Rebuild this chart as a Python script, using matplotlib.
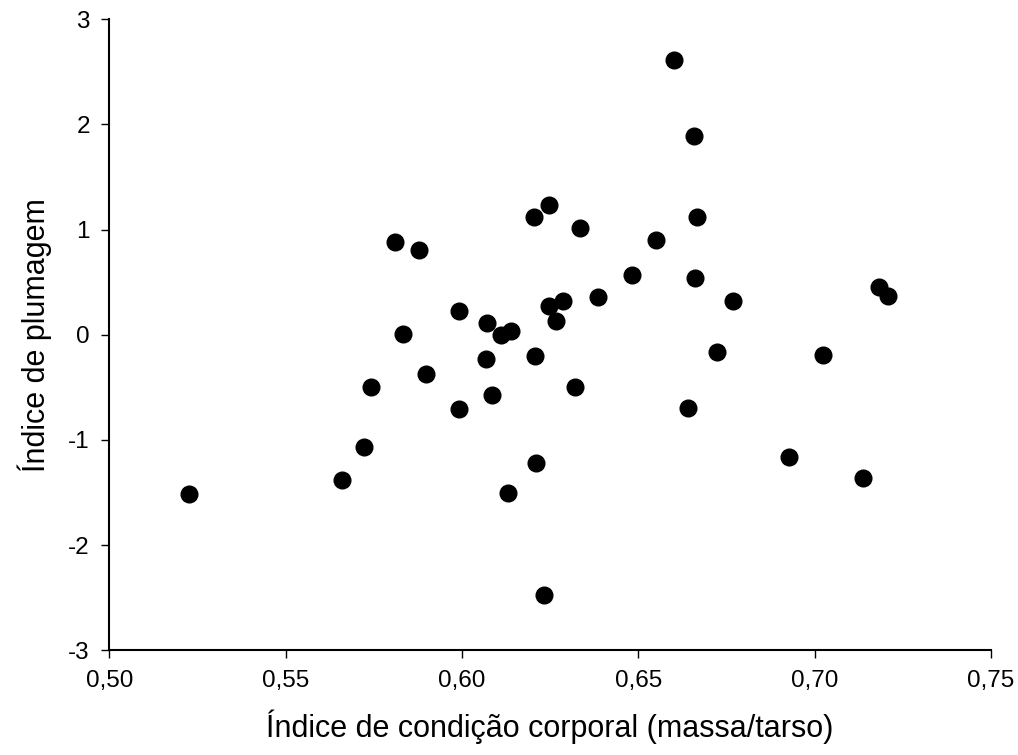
import matplotlib
matplotlib.use("Agg")
import matplotlib.pyplot as plt
from matplotlib.ticker import FuncFormatter

# Índice de condição corporal (massa/tarso)
condicao = [0.5226, 0.5660, 0.5721, 0.5742, 0.5810, 0.5832, 0.5877, 0.5899,
            0.5993, 0.5993, 0.6070, 0.6068, 0.6085, 0.6110, 0.6138, 0.6130,
            0.6205, 0.6207, 0.6209, 0.6232, 0.6247, 0.6246, 0.6267, 0.6287,
            0.6321, 0.6335, 0.6386, 0.6481, 0.6549, 0.6601, 0.6642, 0.6658,
            0.6662, 0.6667, 0.6723, 0.6770, 0.6926, 0.7024, 0.7137, 0.7183,
            0.7208]
# Índice de plumagem
plumagem = [-1.517, -1.378, -1.064, -0.493, 0.885, 0.005, 0.811, -0.377,
            0.226, -0.708, 0.115, -0.230, -0.568, -0.002, 0.036, -1.501,
            1.117, -0.202, -1.219, -2.471, 1.239, 0.274, 0.131, 0.324,
            -0.493, 1.016, 0.357, 0.571, 0.899, 2.613, -0.699, 1.893,
            0.543, 1.117, -0.164, 0.319, -1.162, -0.192, -1.362, 0.457,
            0.372]

xticks = [0.50, 0.55, 0.60, 0.65, 0.70, 0.75]
yticks = [-3, -2, -1, 0, 1, 2, 3]

plt.rcParams['font.family'] = ['Liberation Sans', 'DejaVu Sans']

fig = plt.figure(figsize=(10.18, 7.55), dpi=100)
ax = fig.add_axes([0.1074, 0.1387, 0.866, 0.8357])

ax.plot(condicao, plumagem, 'o', color='black', markersize=12, clip_on=False)

ax.set_xlim(0.50, 0.75)
ax.set_ylim(-3, 3)
ax.set_xticks(xticks)
ax.set_yticks(yticks)
ax.xaxis.set_major_formatter(FuncFormatter(lambda v, p: f"{v:.2f}".replace('.', ',')))
ax.yaxis.set_major_formatter(FuncFormatter(lambda v, p: f"{v:.0f}"))

for side in ['top', 'right']:
    ax.spines[side].set_visible(False)
for side in ['left', 'bottom']:
    ax.spines[side].set_linewidth(1.5)

ax.tick_params(axis='both', direction='out', length=6, width=1, labelsize=17.5, pad=8)

ax.set_xlabel("Índice de condição corporal (massa/tarso)", fontsize=22, labelpad=13)
ax.set_ylabel("Índice de plumagem", fontsize=22, labelpad=12)

fig.savefig("out.png", dpi=100)
